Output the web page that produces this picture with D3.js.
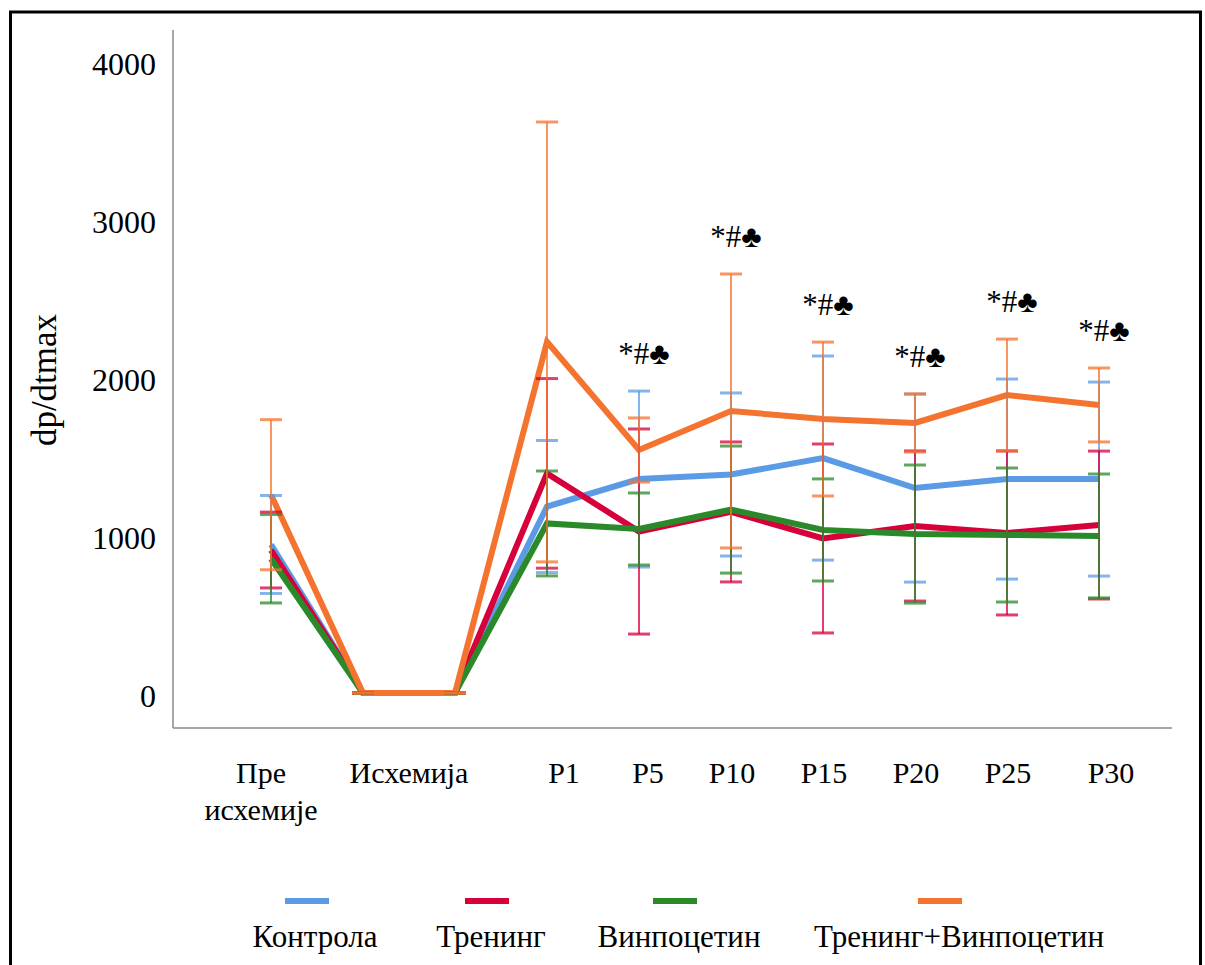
<!DOCTYPE html>
<html>
<head>
<meta charset="utf-8">
<script src="https://cdn.jsdelivr.net/npm/d3@7"></script>
<style>
  body { margin: 0; background: #fff; }
  svg text { font-family: "Liberation Serif", "Times New Roman", serif; fill: #000; }
</style>
</head>
<body>
<div id="chart"></div>
<script>
// time points (two points for the ischemia period)
var categories = ['pre', 'isch1', 'isch2', 'P1', 'P5', 'P10', 'P15', 'P20', 'P25', 'P30'];
var tickLabels = [
  {at: 0, lines: ['Пре', 'исхемије']},
  {at: 1.5, lines: ['Исхемија']},
  {at: 3, lines: ['P1']},
  {at: 4, lines: ['P5']},
  {at: 5, lines: ['P10']},
  {at: 6, lines: ['P15']},
  {at: 7, lines: ['P20']},
  {at: 8, lines: ['P25']},
  {at: 9, lines: ['P30']}
];
var yTicks = [0, 1000, 2000, 3000, 4000];

var seriesNames = ['Контрола', 'Тренинг', 'Винпоцетин', 'Тренинг+Винпоцетин'];
var seriesColors = ['#5b9be6', '#d6003a', '#2a8a2a', '#f4732f'];

var kontrolaMean = [940, 0, 0, 1180, 1354, 1383, 1487, 1297, 1354, 1354];
var kontrolaSd   = [310, 0, 0, 418, 557, 516, 646, 595, 633, 614];
var treningMean  = [905, 0, 0, 1390, 1022, 1146, 978, 1057, 1013, 1063];
var treningSd    = [240, 0, 0, 600, 649, 443, 598, 475, 519, 468];
var vinpoMean    = [850, 0, 0, 1073, 1038, 1161, 1032, 1006, 1000, 994];
var vinpoSd      = [280, 0, 0, 332, 228, 402, 323, 437, 424, 392];
var kombMean     = [1255, 0, 0, 2222, 1538, 1785, 1734, 1709, 1886, 1823];
var kombSd       = [475, 0, 0, 1392, 203, 867, 487, 184, 354, 234];

// significance marks above the points
var sigMarks = ['', '', '', '', '*#♣', '*#♣', '*#♣', '*#♣', '*#♣', '*#♣'];

var allMeans = [kontrolaMean, treningMean, vinpoMean, kombMean];
var allSds = [kontrolaSd, treningSd, vinpoSd, kombSd];

var W = 1205, H = 965;
var svg = d3.select('#chart').append('svg')
    .attr('width', W)
    .attr('height', H);

// outer frame
svg.append('rect')
    .attr('x', 10.5).attr('y', 12)
    .attr('width', 1190).attr('height', 980)
    .attr('fill', 'none')
    .attr('stroke', '#000')
    .attr('stroke-width', 3);

var x = d3.scaleLinear()
    .domain([0, categories.length - 1])
    .range([271, 1099]);

var y = d3.scaleLinear()
    .domain([0, 4000])
    .range([693, 61]);

// axes lines
svg.append('line')
    .attr('x1', 173).attr('x2', 173)
    .attr('y1', 30).attr('y2', 728)
    .attr('stroke', '#8a8a8a').attr('stroke-width', 1.5);
svg.append('line')
    .attr('x1', 173).attr('x2', 1172)
    .attr('y1', 728).attr('y2', 728)
    .attr('stroke', '#8a8a8a').attr('stroke-width', 1.5);

// y tick labels
svg.append('g').selectAll('text')
    .data(yTicks)
    .enter().append('text')
    .attr('x', 156)
    .attr('y', d => y(d) + 3)
    .attr('dy', '0.35em')
    .attr('text-anchor', 'end')
    .attr('font-size', 32)
    .text(d => d);

// y title
svg.append('text')
    .attr('transform', 'translate(56,380) rotate(-90)')
    .attr('text-anchor', 'middle')
    .attr('font-size', 35)
    .text('dp/dtmax');

// x tick labels (small nudges like the original text boxes)
var labelShift = [-10, 0, 17, 9, 1, 1, 1, 1, 12];
var xl = svg.append('g').selectAll('text')
    .data(tickLabels)
    .enter().append('text')
    .attr('text-anchor', 'middle')
    .attr('font-size', 30)
    .attr('y', 783);
xl.selectAll('tspan')
    .data((d, j) => d.lines.map(l => ({l: l, at: d.at, j: j})))
    .enter().append('tspan')
    .attr('x', d => x(d.at) + labelShift[d.j])
    .attr('dy', (d, i) => i === 0 ? 0 : 37)
    .text(d => d.l);

// lines
var line = d3.line()
    .x((d, i) => x(i))
    .y(d => y(d));

svg.append('g').selectAll('path')
    .data(allMeans)
    .enter().append('path')
    .attr('d', d => line(d))
    .attr('fill', 'none')
    .attr('stroke', (d, i) => seriesColors[i])
    .attr('stroke-width', 6)
    .attr('stroke-linejoin', 'miter');

// error bars
var capW = 11;
allMeans.forEach(function(means, s) {
  var g = svg.append('g')
      .attr('stroke', seriesColors[s])
      .attr('stroke-opacity', 0.75);
  var pts = means.map((m, i) => ({i: i, m: m, sd: allSds[s][i]}));
  g.selectAll('.stem').data(pts).enter().append('line')
      .attr('class', 'stem')
      .attr('x1', d => x(d.i)).attr('x2', d => x(d.i))
      .attr('y1', d => y(d.m + d.sd)).attr('y2', d => y(d.m - d.sd))
      .attr('stroke-width', 2);
  g.selectAll('.capTop').data(pts).enter().append('line')
      .attr('class', 'capTop')
      .attr('x1', d => x(d.i) - capW).attr('x2', d => x(d.i) + capW)
      .attr('y1', d => y(d.m + d.sd)).attr('y2', d => y(d.m + d.sd))
      .attr('stroke-width', 3);
  g.selectAll('.capBot').data(pts).enter().append('line')
      .attr('class', 'capBot')
      .attr('x1', d => x(d.i) - capW).attr('x2', d => x(d.i) + capW)
      .attr('y1', d => y(d.m - d.sd)).attr('y2', d => y(d.m - d.sd))
      .attr('stroke-width', 3);
});

// significance marks
svg.append('g').selectAll('text')
    .data(sigMarks)
    .enter().append('text')
    .attr('x', (d, i) => x(i) + 5)
    .attr('y', (d, i) => {
      var top = d3.max(allMeans, (m, s) => m[i] + allSds[s][i]);
      return y(top) - 38;
    })
    .attr('dy', '0.35em')
    .attr('text-anchor', 'middle')
    .attr('font-size', 31)
    .text(d => d);

// legend
var legendX = [307, 487, 675, 940];
var lg = svg.append('g').selectAll('g')
    .data(seriesNames)
    .enter().append('g')
    .attr('transform', (d, i) => 'translate(' + legendX[i] + ',0)');
lg.append('line')
    .attr('x1', -22).attr('x2', 22)
    .attr('y1', 901).attr('y2', 901)
    .attr('stroke', (d, i) => seriesColors[i])
    .attr('stroke-width', 6);
lg.append('text')
    .attr('x', (d, i) => i === 0 ? 8 : (i === 3 ? 19 : 4))
    .attr('y', 947)
    .attr('text-anchor', 'middle')
    .attr('font-size', 31)
    .text(d => d);
</script>
</body>
</html>
